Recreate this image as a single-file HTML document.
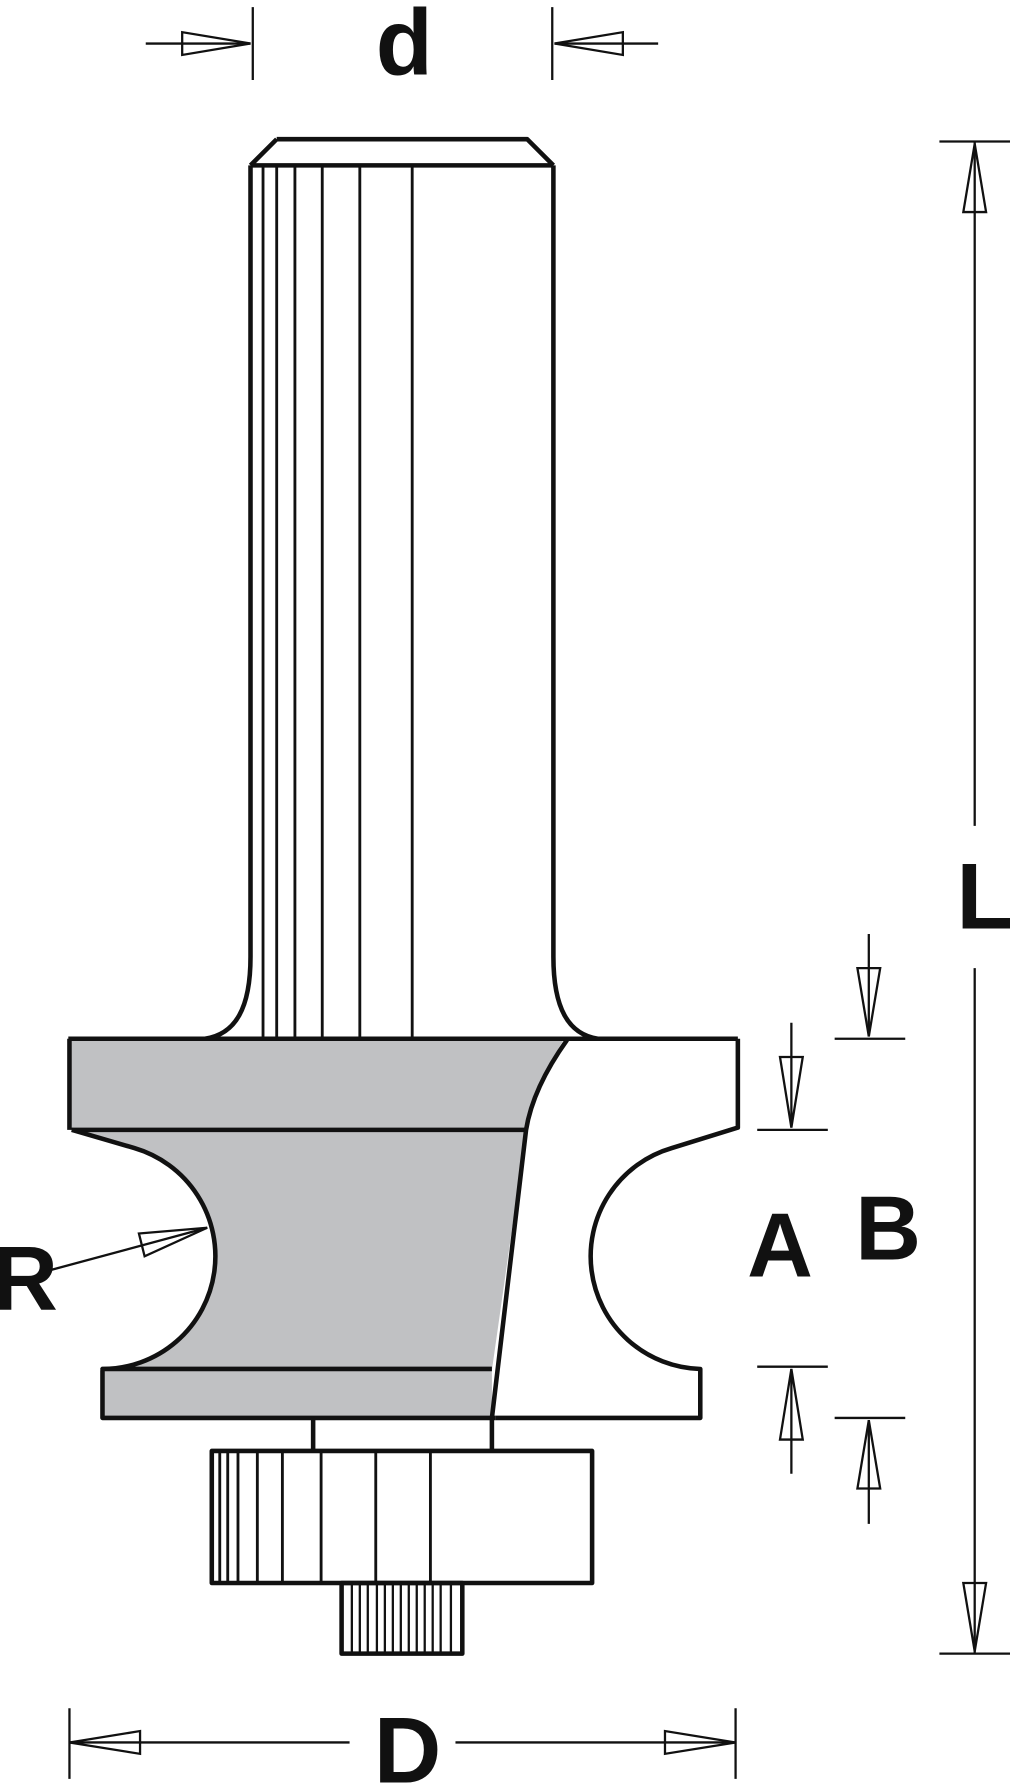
<!DOCTYPE html>
<html><head><meta charset="utf-8"><style>
html,body{margin:0;padding:0;background:#fff;}
svg{display:block;}
text{font-family:"Liberation Sans",sans-serif;font-weight:bold;fill:#111;}
</style></head><body>
<svg width="1010" height="1786" viewBox="0 0 887 1568" xmlns="http://www.w3.org/2000/svg">
<g fill="none" stroke="#111" stroke-width="4" stroke-linejoin="round">
<path d="M61,913 L495,913 Q468,955 462,992 L432,1203 L90,1202 A99,99 0 0 0 118,1008 L63,992 Z" fill="#c0c1c3" stroke="none"/>
<rect x="90" y="1203" width="342" height="42" fill="#c0c1c3" stroke="none"/>
<path d="M220,145 L486,145"/>
<path d="M243,122 L463,122 L486,145 M243,122 L220,145"/>
<path d="M220,145 L220,840 C220,885 207,908 180,912"/>
<path d="M486,145 L486,840 C486,885 499,908 525,912"/>
<g stroke-width="2.5">
<path d="M231,145V912 M243,145V912 M259,145V912 M283,145V912 M316,145V912 M362,145V912"/>
</g>
<path d="M60,912 L648,912"/>
<path d="M61,912 L61,992 M63,992 L462,992"/>
<path d="M63,992 L118,1008 A99,99 0 0 1 90,1202 L432,1202"/>
<path d="M90,1203 L90,1245 L435,1245"/>
<path d="M498,913 Q468,955 462,992 L432,1245"/>
<path d="M648,912 L648,990 L590,1008 A99,99 0 0 0 615,1202 L615,1245 L435,1245"/>
<path d="M275,1245V1273 M432,1245V1273"/>
<rect x="186" y="1274" width="334" height="116"/>
<g stroke-width="2.5"><path d="M193,1274V1390 M200,1274V1390 M209,1274V1390 M226,1274V1390 M248,1274V1390 M282,1274V1390 M330,1274V1390 M378,1274V1390"/></g>
<rect x="300" y="1390" width="106" height="62"/>
<g stroke-width="2"><path d="M309,1390V1452 M316,1390V1452 M323,1390V1452 M331,1390V1452 M338,1390V1452 M345,1390V1452 M352,1390V1452 M359,1390V1452 M366,1390V1452 M373,1390V1452 M380,1390V1452 M387,1390V1452 M396,1390V1452"/></g>
</g>
<g fill="none" stroke="#111" stroke-width="2">
<path d="M222,6V70 M485,6V70"/>
<path d="M220,38 L160,28 L160,48 Z M487,38 L547,28 L547,48 Z" fill="#fff"/>
<path d="M128,38H220 M487,38H578"/>
<path d="M825,124H887 M825,1452H887"/>
<path d="M856,126 L846,186 L866,186 Z M856,1450 L846,1390 L866,1390 Z" fill="#fff"/>
<path d="M856,124V725 M856,850V1452"/>
<path d="M665,992H727 M665,1200H727"/>
<path d="M695,990 L685,928 L705,928 Z M695,1202 L685,1264 L705,1264 Z" fill="#fff"/>
<path d="M695,898V990 M695,1202V1294"/>
<path d="M733,912H795 M733,1245H795"/>
<path d="M763,910 L753,850 L773,850 Z M763,1247 L753,1307 L773,1307 Z" fill="#fff"/>
<path d="M763,820V910 M763,1247V1338"/>
<path d="M61,1500V1562 M646,1500V1562"/>
<path d="M61,1530 L123,1520 L123,1540 Z M646,1530 L584,1520 L584,1540 Z" fill="#fff"/>
<path d="M61,1530H307 M400,1530H646"/>
<path d="M182,1078 L122,1083 L127,1103 Z" fill="#fff"/>
<path d="M45,1115 L182,1078"/>
</g>
<text x="355" y="65" font-size="82" text-anchor="middle">d</text>
<text x="865" y="815" font-size="82" text-anchor="middle">L</text>
<text x="685" y="1121" font-size="80" text-anchor="middle">A</text>
<text x="780" y="1106" font-size="80" text-anchor="middle">B</text>
<text x="22" y="1150" font-size="80" text-anchor="middle">R</text>
<text x="358" y="1565" font-size="82" text-anchor="middle">D</text>
</svg>
</body></html>
